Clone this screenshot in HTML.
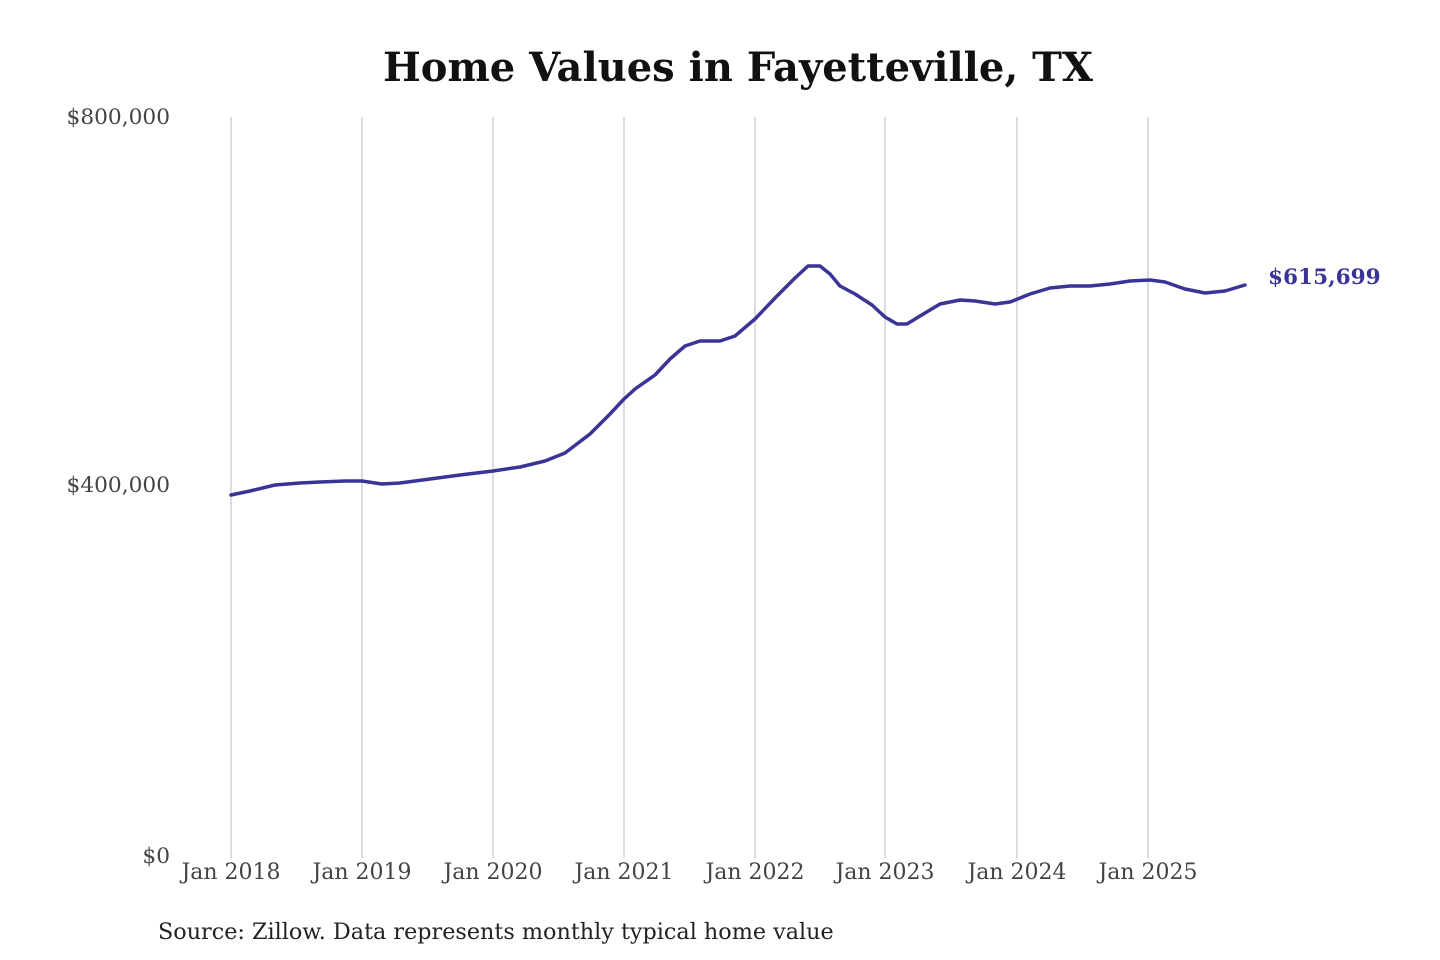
<!DOCTYPE html>
<html><head><meta charset="utf-8"><style>
html,body{margin:0;padding:0;background:#fff;}
svg{display:block;}
</style></head><body>
<svg width="1440" height="960" viewBox="0 0 1440 960" xmlns="http://www.w3.org/2000/svg">
<rect width="1440" height="960" fill="#fff"/>
<text x="738" y="81" text-anchor="middle" font-family="DejaVu Serif, Liberation Serif, serif" font-weight="bold" font-size="40" fill="#111">Home Values in Fayetteville, TX</text>
<g stroke="#c4c4c4" stroke-width="1.2">
<line x1="231" y1="117" x2="231" y2="858"/>
<line x1="362" y1="117" x2="362" y2="858"/>
<line x1="493" y1="117" x2="493" y2="858"/>
<line x1="624" y1="117" x2="624" y2="858"/>
<line x1="755" y1="117" x2="755" y2="858"/>
<line x1="885" y1="117" x2="885" y2="858"/>
<line x1="1017" y1="117" x2="1017" y2="858"/>
<line x1="1148" y1="117" x2="1148" y2="858"/>
</g>
<g font-family="DejaVu Serif, Liberation Serif, serif" fill="#444">
<g font-size="21.7" text-anchor="end">
<text x="170" y="124">$800,000</text>
<text x="170" y="492">$400,000</text>
<text x="170" y="863">$0</text>
</g>
<g text-anchor="middle" font-size="22">
<text x="231" y="879">Jan 2018</text>
<text x="362" y="879">Jan 2019</text>
<text x="493" y="879">Jan 2020</text>
<text x="624" y="879">Jan 2021</text>
<text x="755" y="879">Jan 2022</text>
<text x="885" y="879">Jan 2023</text>
<text x="1017" y="879">Jan 2024</text>
<text x="1148" y="879">Jan 2025</text>
</g>
</g>
<polyline fill="none" stroke="#3a3496" stroke-width="3.5" stroke-linejoin="round" stroke-linecap="round" points="231,495 250,491 275,485 300,483 320,482 345,481 362,481 382,484 400,483 430,479 460,475 493,471 520,467 545,461 565,453 590,434 610,414 624,399 635,389 655,375 670,359 685,346 700,341 720,341 735,336 755,319 775,298 795,278 808,266 820,266 830,274 840,286 855,294 872,305 885,317 897,324 907,324 920,316 940,304 960,300 975,301 995,304 1010,302 1030,294 1050,288 1070,286 1090,286 1110,284 1130,281 1150,280 1165,282 1185,289 1205,293 1225,291 1245,285"/>
<text x="1268" y="284" font-family="DejaVu Serif, Liberation Serif, serif" font-weight="bold" font-size="21.6" fill="#3a3496">$615,699</text>
<text x="158" y="939" font-family="DejaVu Serif, Liberation Serif, serif" font-size="22.3" fill="#222">Source: Zillow. Data represents monthly typical home value</text>
</svg>
</body></html>
